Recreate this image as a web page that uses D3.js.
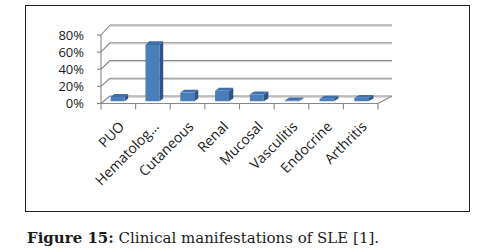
<!DOCTYPE html>
<html>
<head>
<meta charset="utf-8">
<script src="https://cdn.jsdelivr.net/npm/d3@7"></script>
<style>
  body { margin: 0; background: #fff; }
  svg text { fill: #1c1c1c; }
</style>
</head>
<body>
<svg id="chart" width="485" height="252"></svg>
<script>
// data
var categories = ["PUO", "Hematolog...", "Cutaneous", "Renal", "Mucosal", "Vasculitis", "Endocrine", "Arthritis"];
var values = [0.05, 0.65, 0.10, 0.12, 0.08, 0.01, 0.03, 0.04];
var yTicks = [0, 0.2, 0.4, 0.6, 0.8];
var caption = ["Figure 15:", " Clinical manifestations of SLE [1]."];

var svg = d3.select("#chart");

// frame round the chart
svg.append("rect")
    .attr("x", 25.5).attr("y", 5.5)
    .attr("width", 444).attr("height", 206)
    .style("fill", "none")
    .style("stroke", "#222")
    .style("stroke-width", 1);

// front plane and back plane scales, z goes 0 (front) -> 1 (back)
var xFront = d3.scaleBand().domain(categories).range([101, 378]);
var xBack = d3.scaleBand().domain(categories).range([110, 392]);
var yFront = d3.scaleLinear().domain([0, 0.8]).range([103.5, 35]);
var yBack = d3.scaleLinear().domain([0, 0.8]).range([96, 25]);

function proj(cat, frac, v, z) {
    var xf = xFront(cat) + frac * xFront.bandwidth();
    var xb = xBack(cat) + frac * xBack.bandwidth();
    return [xf + (xb - xf) * z, yFront(v) + (yBack(v) - yFront(v)) * z];
}

var grid = svg.append("g").attr("class", "grid");
var gridColor = "#888";

// back wall gridlines (with light shadow)
yTicks.forEach(function (t) {
    grid.append("line")
        .attr("x1", xBack.range()[0]).attr("x2", xBack.range()[1])
        .attr("y1", yBack(t) + 1.2).attr("y2", yBack(t) + 1.2)
        .style("stroke", "#d0d0d0").style("stroke-width", 1);
    grid.append("line")
        .attr("x1", xBack.range()[0]).attr("x2", xBack.range()[1])
        .attr("y1", yBack(t)).attr("y2", yBack(t))
        .style("stroke", gridColor).style("stroke-width", 1.2);
    // side wall diagonal
    grid.append("line")
        .attr("x1", xFront.range()[0]).attr("y1", yFront(t))
        .attr("x2", xBack.range()[0]).attr("y2", yBack(t))
        .style("stroke", gridColor).style("stroke-width", 1.1);
    // tick at the axis
    grid.append("line")
        .attr("x1", xFront.range()[0] - 4).attr("x2", xFront.range()[0])
        .attr("y1", yFront(t)).attr("y2", yFront(t))
        .style("stroke", gridColor).style("stroke-width", 1.1);
});

// floor: right edge diagonal
grid.append("line")
    .attr("x1", xFront.range()[1]).attr("y1", yFront(0))
    .attr("x2", xBack.range()[1]).attr("y2", yBack(0))
    .style("stroke", gridColor).style("stroke-width", 1.1);

// vertical axis
grid.append("line")
    .attr("x1", xFront.range()[0]).attr("x2", xFront.range()[0])
    .attr("y1", yFront(0.8)).attr("y2", yFront(0))
    .style("stroke", gridColor).style("stroke-width", 1.1);

// y labels
svg.append("g").selectAll("text")
    .data(yTicks)
    .enter().append("text")
    .attr("x", 84)
    .attr("y", d => yFront(d))
    .attr("dy", "0.36em")
    .attr("text-anchor", "end")
    .style("font-family", "'Open Sans', sans-serif")
    .style("font-size", "13px")
    .text(d => Math.round(d * 100) + "%");

// bars: front at depth 0.3, back at 0.68
var z0 = 0.3, z1 = 0.68, f0 = 0.2, f1 = 0.6;
var bars = svg.append("g").attr("class", "bars")
    .selectAll("g")
    .data(categories.map((c, i) => ({ cat: c, v: values[i] })))
    .enter().append("g");

function poly(pts) { return "M" + pts.map(p => p.join(",")).join("L") + "Z"; }

bars.append("path") // side
    .attr("d", d => poly([proj(d.cat, f1, 0, z0), proj(d.cat, f1, 0, z1),
        proj(d.cat, f1, d.v, z1), proj(d.cat, f1, d.v, z0)]))
    .style("fill", "#2f5487");
bars.append("path") // top
    .attr("d", d => poly([proj(d.cat, f0, d.v, z0), proj(d.cat, f1, d.v, z0),
        proj(d.cat, f1, d.v, z1), proj(d.cat, f0, d.v, z1)]))
    .style("fill", "#3f6eab");
bars.append("path") // front
    .attr("d", d => poly([proj(d.cat, f0, 0, z0), proj(d.cat, f1, 0, z0),
        proj(d.cat, f1, d.v, z0), proj(d.cat, f0, d.v, z0)]))
    .style("fill", "#4a7ebb");

// floor front edge and ticks
var axis = svg.append("g");
axis.append("line")
    .attr("x1", xFront.range()[0]).attr("x2", xFront.range()[1])
    .attr("y1", yFront(0)).attr("y2", yFront(0))
    .style("stroke", gridColor).style("stroke-width", 1.1);
axis.selectAll(".tk")
    .data(categories.concat(["end"]))
    .enter().append("line")
    .attr("x1", (d, i) => i < categories.length ? xFront(d) : xFront.range()[1])
    .attr("x2", (d, i) => i < categories.length ? xFront(d) : xFront.range()[1])
    .attr("y1", yFront(0)).attr("y2", yFront(0) + 6)
    .style("stroke", gridColor).style("stroke-width", 1.1);

// category labels, rotated
axis.selectAll(".cl")
    .data(categories)
    .enter().append("text")
    .attr("transform", d => "translate(" + (xFront(d) + xFront.bandwidth() / 2 + 7) + "," + (yFront(0) + 24) + ") rotate(-45)")
    .attr("text-anchor", "end")
    .style("font-family", "'Open Sans', sans-serif")
    .style("font-size", "14px")
    .text(d => d);

// caption
var cap = svg.append("text")
    .attr("x", 27).attr("y", 243)
    .style("font-family", "'DejaVu Serif', serif")
    .style("font-size", "15px");
cap.append("tspan").style("font-weight", "bold").text(caption[0]);
cap.append("tspan").text(caption[1]);
</script>
</body>
</html>
